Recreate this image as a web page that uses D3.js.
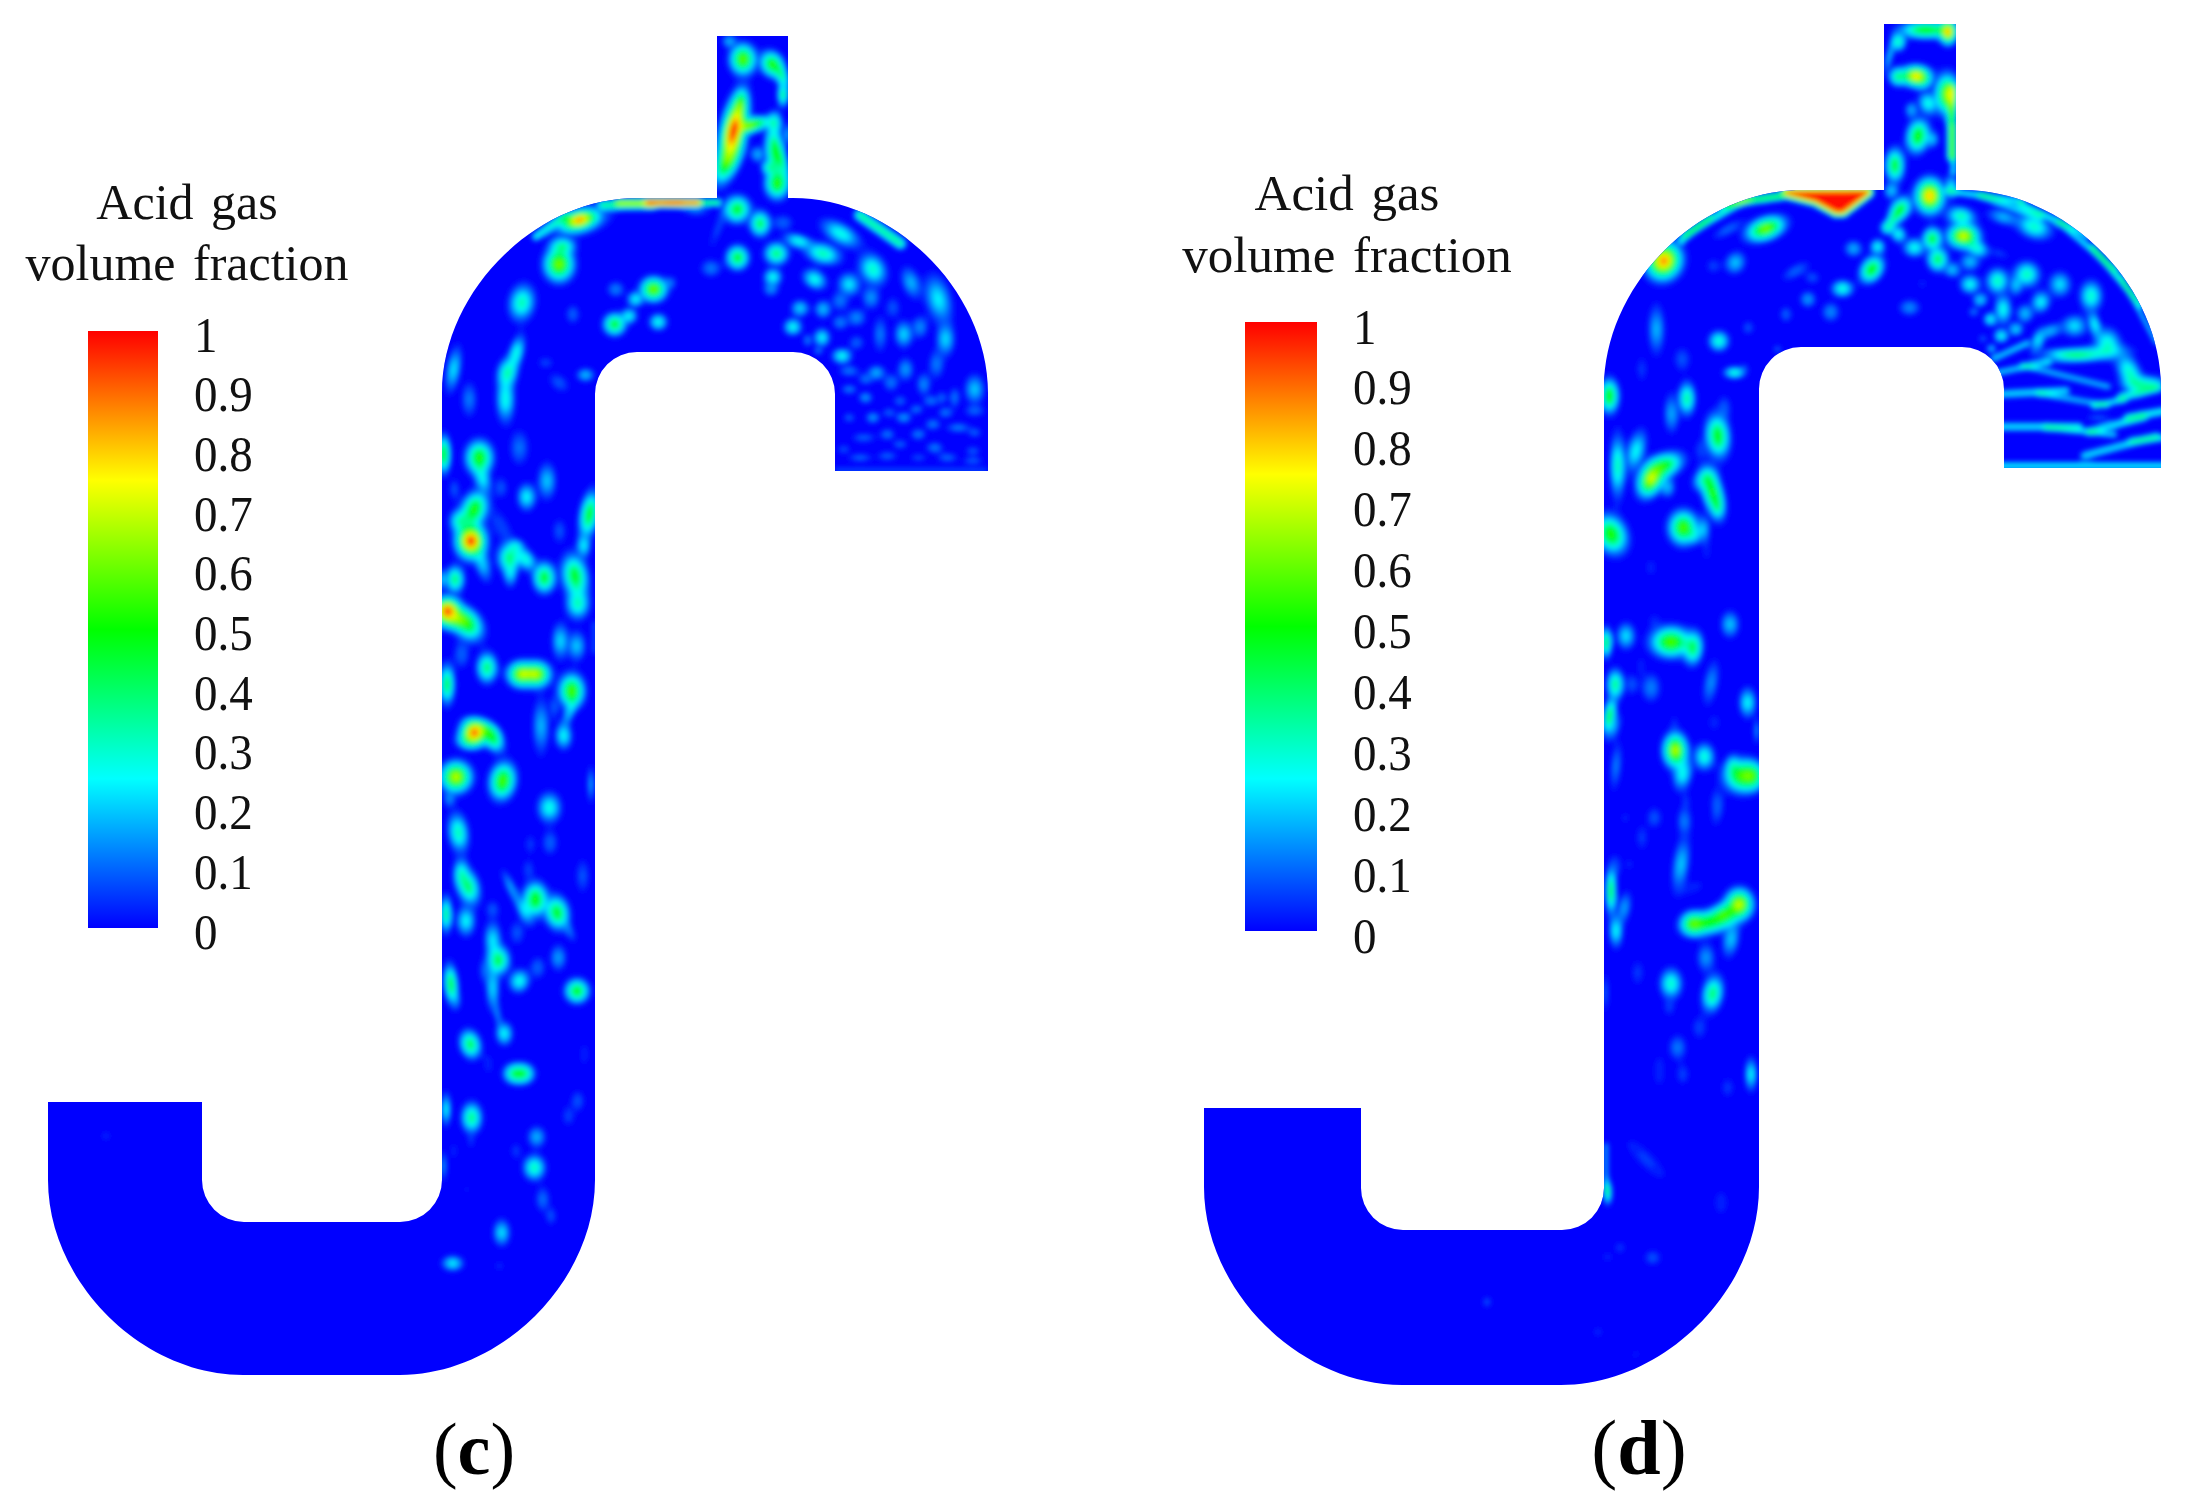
<!DOCTYPE html>
<html><head><meta charset="utf-8">
<script src="https://cdn.jsdelivr.net/npm/d3@7"></script>
<style>html,body{margin:0;padding:0;background:#fff}svg{display:block}</style></head>
<body><svg id="c" width="2190" height="1509"></svg>
<script>
// legend values
const legendTicks=[0,0.1,0.2,0.3,0.4,0.5,0.6,0.7,0.8,0.9,1];
const stopValues=[0,0.25,0.5,0.75,1];
const stopColors=["#0000ff","#00ffff","#00ff00","#ffff00","#ff0000"];
const titleLines=["Acid gas","volume fraction"];
const panelLetters=["c","d"];

// Gas pockets: [x, y, spreadX, spreadY, peak fraction, tilt deg]
// x, y and spreads are in the units of each reading window (see windows below).
const pocketsCTop=[
[858,115,14,18,.62],[820,60,8,8,.2],[938,130,12,16,.55,-30],[965,165,7,16,.35,-20],[968,222,6,14,.4],
[832,330,13,42,1,12],[815,420,12,30,.5,25],[850,250,7,18,.45,10],[890,308,18,8,.55,-10],[870,320,12,7,.4],
[945,305,8,14,.3],[945,390,10,30,.5,-5],[965,420,6,22,.3,-15],[980,340,4,14,.2],[898,400,8,10,.2],[928,440,8,8,.28],[952,488,13,18,.55],
[665,545,40,5,1],[600,545,50,5,.6],[540,552,40,6,.4],[720,545,40,4,.5],[730,570,16,6,.12],
[408,597,18,10,.85,-15],[410,600,32,16,.3,-15],[1235,625,40,7,.4,35],[330,615,30,5,.3,-35],
[352,730,16,20,.65],[362,675,14,10,.35],[250,845,14,22,.35,10],[390,880,8,12,.12],
[612,805,14,14,.65],[658,785,8,8,.12],[562,835,9,9,.28],[545,885,9,9,.28],[505,910,12,13,.5],[625,903,10,10,.3],[508,805,10,10,.15],
[842,565,14,16,.5,30],[905,608,11,15,.45],[968,605,12,10,.12],[790,620,6,30,.08,20],[843,710,12,14,.5],[950,698,13,13,.42],[770,742,12,11,.14],
[1010,660,16,8,.3,15],[1127,638,24,12,.3,30],[1078,698,20,12,.36,15],[1055,775,14,11,.3,30],[940,768,10,10,.3],[935,805,9,9,.16],
[1150,790,12,14,.26,-30],[1215,745,14,20,.33,-30],[1320,785,10,20,.2,-20],[1395,835,14,30,.26,-15],
[1015,862,10,10,.24],[1078,865,9,11,.22],[995,918,10,10,.3],[1075,950,9,11,.28],[1130,1005,11,9,.3],[1035,958,5,8,.15],[1065,990,5,5,.15],
[1125,840,10,12,.14],[1210,830,10,14,.17],[1170,890,11,11,.16],[1125,905,9,9,.15],[1270,860,9,14,.1],
[1300,940,10,16,.24],[1345,918,9,14,.16],[1415,955,10,20,.24],[1235,940,8,22,.14],[1170,965,9,9,.12],[1390,1030,9,18,.14],
[1305,1045,9,14,.18],[1225,1055,10,9,.2],[1150,1050,12,7,.14],[1195,1075,9,7,.13],[1265,1085,9,11,.14],[1355,1090,8,14,.16],[1495,1105,11,18,.22],[1440,1130,6,13,.14],
[1150,1105,9,6,.15],[1195,1130,8,7,.18],[1290,1140,8,7,.12],[1375,1140,9,7,.14],[1405,1130,6,8,.12],
[1215,1190,8,7,.18],[1300,1190,9,7,.18],[1335,1165,8,6,.14],[1415,1175,9,7,.14],[1495,1170,12,7,.12],[1260,1175,8,6,.12],
[1150,1190,7,6,.12],[1380,1210,9,7,.15],[1450,1220,14,6,.15],[1255,1240,9,7,.14],[1340,1240,9,7,.15],[1190,1250,14,6,.12],[1495,1235,8,6,.12],
[1290,1270,9,6,.12],[1385,1280,10,7,.15],[1135,1285,8,6,.1],[1490,1290,9,6,.11],[1180,1310,14,5,.13],[1255,1305,12,6,.12],[1340,1310,10,5,.1],[1420,1310,12,6,.13],[1490,1320,12,5,.12],
[1320,1348,120,4,.1],
[62,1045,8,28,.25,10],[235,995,8,22,.3,15],[210,1055,11,18,.33,10],[205,1135,10,28,.3],[105,1135,9,22,.14],[352,1085,14,10,.1,40],[425,1062,10,8,.22],[315,1025,10,8,.08]
];
const pocketsCMid=[
[38,100,8,22,.55],[145,110,16,20,.55],[155,175,9,18,.25,-15],[70,205,7,14,.1],[210,200,9,14,.1],[265,80,12,22,.13],[348,180,11,22,.22],[287,228,11,16,.28],
[130,265,15,22,.55,20],[85,300,12,14,.3],[120,360,17,20,1],[155,430,9,22,.22,-15],[475,280,11,28,.5,10],[458,375,8,14,.25],[385,330,9,16,.1],[210,315,12,28,.08,-30],
[235,410,14,18,.4],[255,375,10,8,.2],[285,415,10,16,.3,-35],[238,460,8,16,.22],[72,475,11,16,.42],[340,470,13,18,.5],[432,465,15,26,.5,-10],[35,475,4,12,.25],
[50,570,14,14,.95],[45,575,18,18,.4],[110,610,16,22,.5,-40],[80,595,16,12,.45],[440,550,14,18,.33],[388,660,10,22,.24],[437,675,11,18,.22],[490,650,4,25,.1],
[92,700,10,18,.12],[168,740,12,18,.42],[48,790,9,24,.45],[270,760,16,15,.65],[318,760,16,15,.65],[293,758,14,7,.3],
[422,810,15,20,.6],[415,875,6,20,.2,20],[398,945,10,16,.28],[330,915,10,34,.2],[370,860,6,16,.1],
[130,935,16,15,.95],[185,950,11,18,.5,-30],[150,918,20,8,.3,20],[115,960,16,10,.3],
[75,1068,18,18,.72],[215,1080,15,22,.6,10],[480,1090,4,22,.2],[55,1135,7,10,.15],[355,1160,14,18,.3]
];
const pocketsCLow=[
[82,95,12,24,.35,-8],[357,125,10,16,.12],[298,130,8,14,.07],[292,205,8,14,.08],[455,225,9,22,.1],[90,215,9,18,.26],[112,258,13,22,.42,-15],
[240,260,6,24,.18,-25],[313,295,14,20,.55],[280,330,8,20,.2,-25],[378,335,14,20,.5,-10],[415,390,6,16,.12,-25],[45,340,7,22,.4],[105,360,11,18,.28],[185,325,9,12,.1],[258,395,10,16,.1],
[185,415,10,22,.25],[203,478,13,17,.45],[160,510,7,16,.1],[185,560,8,28,.24],[200,640,4,20,.15,-10],[320,500,10,14,.12],[382,470,10,16,.18],[265,540,12,14,.3,20],
[438,570,14,14,.52],[60,550,8,24,.48,-5],[78,600,5,12,.1],[220,698,10,14,.28],[118,730,12,17,.45,-15],[172,790,8,16,.05],[250,818,13,12,.4],[278,818,13,12,.4],
[460,760,6,16,.06],[440,900,9,14,.1],[412,945,9,14,.08],[45,925,6,20,.28],[122,950,12,18,.4],[120,1020,5,12,.06],[68,1050,5,12,.06],[317,1008,11,13,.2],[255,1050,8,12,.07],[310,1100,13,15,.35],[38,1095,4,18,.18],
[335,1195,9,16,.13],[360,1245,7,12,.1],[212,1295,10,16,.25],[65,1387,13,9,.27],[205,1395,8,8,.05],[108,1165,8,5,.04],[-975,1005,7,7,.06]
];
const pocketsDTop=[
[900,42,28,10,.55],[960,48,9,14,.85],[825,78,8,11,.35],[800,120,4,22,.22,15],[822,182,9,11,.38],[872,180,16,12,.8],[890,195,10,10,.25],
[958,235,13,24,.65],[905,262,10,14,.3,-20],[860,282,7,10,.2],[970,320,5,60,.55],[975,400,4,40,.25],[878,360,12,20,.55,10],[918,370,7,10,.2],[815,448,10,20,.5],
[910,540,15,20,.85],[970,510,7,14,.25],[805,525,8,10,.22],
[440,550,60,5,.55,-8],[330,600,60,5,.35,-30],[270,640,30,4,.3,-40],[463,638,22,13,.65,-20],[360,640,20,7,.12,-30],
[185,735,18,22,.9,30],[380,740,11,14,.22,30],[320,750,9,10,.08],[545,765,18,8,.12,-30],[590,785,9,8,.1],[335,975,11,12,.33],[415,935,7,9,.1],
[165,940,9,30,.2],[235,1030,10,16,.1],[125,1060,7,18,.07],[378,1070,12,7,.33],[405,1055,5,5,.08],[495,1000,5,5,.12],
[36,1140,10,20,.55],[248,1148,9,20,.38],[205,1185,8,24,.13],[350,1175,8,16,.1],
[830,580,10,16,.5,35],[795,635,8,8,.3],[810,610,6,14,.3,35],[825,655,8,10,.3,-30],[768,692,8,9,.3],[702,698,10,10,.2],[868,695,12,11,.3],[917,668,10,13,.5],[752,760,11,17,.55,35],[932,730,11,14,.45],
[995,600,16,11,.35,10],[1002,660,17,14,.75],[1040,698,13,9,.3,25],[1020,738,11,10,.22],[972,762,9,9,.22],[1110,603,18,9,.2,15],[1195,632,20,14,.33,20],[1100,712,14,6,.07,20],
[1020,805,11,11,.3],[1048,852,8,8,.25],[1030,888,6,6,.14],[1075,910,7,8,.3],[1105,960,8,8,.3],[1078,998,5,5,.25],[1055,968,5,5,.12],[1145,940,8,8,.25],
[1095,795,12,15,.35],[1175,775,14,15,.35,20],[1145,810,7,12,.2],[1265,805,12,15,.25],[1350,840,12,18,.33],[1110,880,9,18,.3],[1213,858,10,13,.28,20],[1170,893,9,11,.22],
[672,818,12,10,.32],[578,850,9,10,.18],[640,888,10,12,.16],[518,895,7,10,.12],[855,875,12,10,.16],[890,803,6,8,.05],
[1305,930,14,13,.25],[1240,945,14,8,.2,-20],[1205,975,7,15,.25,20],[1360,925,6,16,.28,-15],[1395,980,14,18,.3,-20],[1330,1015,45,9,.33,-5],[1290,1015,30,6,.2,5],
[1130,1005,30,4,.25,-25],[1160,1055,45,4,.25,-12],[1280,1080,70,4,.22,14],[1180,1130,60,5,.26,-3],[1300,1150,55,4,.22,10],[1400,1160,25,4,.28,-12],[1480,1130,30,5,.3,-15],
[1455,1070,12,26,.33,-25],[1500,1105,25,10,.33],[1190,1232,75,5,.27],[1320,1245,55,4,.25,6],[1420,1225,45,5,.28,-15],[1500,1195,30,5,.3,-10],[1430,1290,60,5,.26,-15],[1510,1270,30,4,.25,-5],
[1330,1350,230,5,.28],[1370,1205,15,5,.1],[1250,610,60,4,.3,25],[1340,690,60,4,.28,40],[1420,780,60,4,.35,50],[1480,880,60,3,.25,62],[1060,540,60,4,.3,8],[1130,570,50,5,.25,20]
];
const pocketsDMid=[
[365,75,14,26,.52,-5],[315,115,9,14,.07],[228,20,9,20,.08],[65,165,9,38,.35],[120,120,11,26,.28,15],[165,205,14,22,.72,25],[205,165,24,14,.5,-25],[215,230,9,12,.2],
[350,245,12,30,.55,-15],[325,205,16,12,.25,-40],[365,290,7,14,.2],[262,350,17,20,.6],[295,375,8,10,.15],[322,355,8,16,.2],[332,415,6,20,.05],[45,370,18,24,.55,-25],[165,470,9,14,.05],
[402,640,11,16,.22],[90,675,11,16,.25],[225,693,24,18,.6],[292,712,11,20,.42,5],[30,695,7,18,.45],[175,630,9,12,.05],
[58,820,10,18,.4],[108,820,8,14,.1],[165,830,12,18,.15],[135,765,6,14,.05],[345,815,9,28,.16,10],[455,875,10,18,.28],[355,935,10,14,.05],[482,960,3,16,.2],
[40,915,7,22,.48,10],[55,950,7,18,.15,20],[238,1018,14,20,.72],[260,1090,11,20,.28,10],[325,1037,12,16,.32],[60,1065,7,30,.14,5],
[438,1095,22,20,.55],[410,1065,8,14,.2],[470,1095,14,16,.42],[235,940,6,16,.05],[270,1170,6,14,.06],[360,1170,8,18,.07]
];
const pocketsDLow=[
[175,50,10,14,.1],[265,60,9,18,.14],[365,30,8,22,.08,10],[138,110,9,18,.07],[88,50,8,12,.04],[255,190,10,34,.22,8],[290,260,20,10,.05,-20],[60,195,8,16,.08],[100,190,8,12,.04],
[45,270,6,28,.48],[85,320,8,20,.18,10],[60,390,8,20,.28],[430,310,16,18,.72],[385,340,18,13,.5,-25],[335,365,28,14,.5,-10],[290,368,14,14,.5],
[405,415,10,22,.22,10],[330,470,11,18,.17],[195,385,6,14,.03],[125,515,9,18,.07],[225,548,13,18,.33],[350,578,12,22,.42,10],[220,620,8,12,.07],[310,680,10,16,.08],[245,740,11,16,.14],[260,820,9,14,.08],
[190,810,10,28,.05],[465,820,7,20,.28],[395,860,9,14,.07],[340,905,8,10,.03],[150,860,7,16,.03],[28,575,4,24,.12],[150,1075,12,40,.07,-45],[375,1205,10,18,.06],[30,1100,3,40,.22],[35,1175,5,14,.4],
[170,1370,11,10,.1],[72,1340,8,8,.07],[35,1368,8,8,.05],[-327,1503,6,7,.1],[6,1593,7,7,.06],[120,1660,12,5,.04,-30],[-984,996,4,4,.04]
];
// Gas pool under the top wall of panel d, same units as pocketsDTop
const poolD=[[520,530],[740,528],[672,585],[655,585],[600,552]];

// Reading windows: each maps reading units onto the page
const windows={
 cTop:[[0,2.75,430],[0,3,20]], cMid:[[0,3,430],[0,3,420]], cLow:[[0,3,430],[0,3,800]],
 dTop:[[0,2.727,1595],[0,3,15]], dMid:[[0,3,1595],[0,3,410]], dLow:[[0,3,1595],[0,3,800]]
};
const winScale=w=>{const [[,kx,x0],[,ky,y0]]=w;
 return {x:d3.scaleLinear().domain([0,kx]).range([x0,x0+1]),y:d3.scaleLinear().domain([0,ky]).range([y0,y0+1]),kx,ky};};

const panels=[
 {letter:panelLetters[0],labelX:474,labelSize:74,titleSize:50,
  geo:{a:48,b:202,c:442,d:595,top:1102,yI:1222,yO:1375,yT:198,yU:352,e:717,f:788,yC:36,g:835,h:988,yE:471,ri:42,ro:195},
  bar:{x:88,w:70,y0:928,y1:331},ticks:{x:194,y0:932,y1:335},title:{x:187,y:[219,280]},
  sets:[[pocketsCTop,windows.cTop],[pocketsCMid,windows.cMid],[pocketsCLow,windows.cLow]],pools:[]},
 {letter:panelLetters[1],labelX:1639,labelSize:78,titleSize:51,
  geo:{a:1204,b:1361,c:1604,d:1759,top:1108,yI:1230,yO:1385,yT:190,yU:347,e:1884,f:1956,yC:24,g:2004,h:2161,yE:468,ri:42,ro:198},
  bar:{x:1245,w:72,y0:931,y1:322},ticks:{x:1353,y0:936,y1:327},title:{x:1347,y:[210,272]},
  sets:[[pocketsDTop,windows.dTop],[pocketsDMid,windows.dMid],[pocketsDLow,windows.dLow]],pools:[[poolD,windows.dTop]]}
];

const color=d3.scaleLinear().domain(stopValues).range(stopColors).clamp(true);
const svg=d3.select("#c");
const defs=svg.append("defs");
const grad=defs.append("linearGradient").attr("id","bar").attr("x1",0).attr("x2",0).attr("y1",1).attr("y2",0);
stopValues.forEach((v,i)=>grad.append("stop").attr("offset",v).attr("stop-color",stopColors[i]));
defs.append("filter").attr("id","soft").attr("x","-5%").attr("y","-5%").attr("width","110%").attr("height","110%")
  .append("feGaussianBlur").attr("stdDeviation",1.3);
const serif="'Liberation Serif','Times New Roman',serif";

function pipePath(g){
 const p=d3.path(),K=0.52;
 const R=g.ro,kr=R*(1-K);
 p.moveTo(g.a,g.top);p.lineTo(g.b,g.top);
 p.arcTo(g.b,g.yI,g.c,g.yI,g.ri);p.arcTo(g.c,g.yI,g.c,g.yU,g.ri);
 p.lineTo(g.c,g.yT+R);p.bezierCurveTo(g.c,g.yT+kr,g.c+kr,g.yT,g.c+R,g.yT);
 p.lineTo(g.e,g.yT);p.lineTo(g.e,g.yC);p.lineTo(g.f,g.yC);p.lineTo(g.f,g.yT);
 p.lineTo(g.h-R,g.yT);p.bezierCurveTo(g.h-kr,g.yT,g.h,g.yT+kr,g.h,g.yT+R);
 p.lineTo(g.h,g.yE);p.lineTo(g.g,g.yE);
 p.arcTo(g.g,g.yU,g.d,g.yU,g.ri);p.arcTo(g.d,g.yU,g.d,g.yO,g.ri);
 p.lineTo(g.d,g.yO-R);p.bezierCurveTo(g.d,g.yO-kr,g.d-kr,g.yO,g.d-R,g.yO);
 p.lineTo(g.a+R,g.yO);p.bezierCurveTo(g.a+kr,g.yO,g.a,g.yO-kr,g.a,g.yO-R);
 p.closePath();
 return p.toString();
}
const CELL=2,SPREAD=1.42;
function buildField(pn){
 const g=pn.geo,x0=g.a-10,y0=g.yC-10,w=Math.ceil((g.h-g.a+20)/CELL),h=Math.ceil((g.yO-g.yC+20)/CELL);
 const f=new Float64Array(w*h);
 pn.sets.forEach(([list,win])=>{
  const s=winScale(win);
  list.forEach(([zx,zy,sx,sy,peak,tilt=0])=>{
   const cx=s.x(zx),cy=s.y(zy),rx=SPREAD*sx/s.kx,ry=SPREAD*sy/s.ky,t=-tilt*Math.PI/180,co=Math.cos(t),si=Math.sin(t);
   // long thin pockets are streaks of even strength
   const lx=rx>6*ry?rx*1.2:0,ly=ry>6*rx?ry*1.2:0,ax=lx?ry:rx,ay=ly?rx:ry;
   const R=Math.max(rx+lx,ry+ly)*3.6;
   const i0=Math.max(0,Math.floor((cx-R-x0)/CELL)),i1=Math.min(w-1,Math.ceil((cx+R-x0)/CELL));
   const j0=Math.max(0,Math.floor((cy-R-y0)/CELL)),j1=Math.min(h-1,Math.ceil((cy+R-y0)/CELL));
   for(let j=j0;j<=j1;j++)for(let i=i0;i<=i1;i++){
    const dx=x0+i*CELL-cx,dy=y0+j*CELL-cy;
    const u=Math.max(0,Math.abs(dx*co-dy*si)-lx),v=Math.max(0,Math.abs(dx*si+dy*co)-ly);
    const val=peak*Math.exp(-0.5*(u*u/(ax*ax)+v*v/(ay*ay)));
    f[j*w+i]=1-(1-f[j*w+i])*(1-val);
   }
  });
 });
 pn.pools.forEach(([poly,win])=>{
  const s=winScale(win),P=poly.map(([a,b])=>[s.x(a),s.y(b)]),W=8;
  const xs=P.map(q=>q[0]),ys=P.map(q=>q[1]);
  const i0=Math.floor((d3.min(xs)-W-x0)/CELL),i1=Math.ceil((d3.max(xs)+W-x0)/CELL),j0=Math.floor((d3.min(ys)-W-y0)/CELL),j1=Math.ceil((d3.max(ys)+W-y0)/CELL);
  const segD=(px,py,a,b)=>{const vx=b[0]-a[0],vy=b[1]-a[1],t=Math.max(0,Math.min(1,((px-a[0])*vx+(py-a[1])*vy)/(vx*vx+vy*vy)));return Math.hypot(px-a[0]-t*vx,py-a[1]-t*vy);};
  for(let j=j0;j<=j1;j++)for(let i=i0;i<=i1;i++){
   const px=x0+i*CELL,py=y0+j*CELL;let val=1;
   if(!d3.polygonContains(P,[px,py])){let d=1e9;P.forEach((a,k)=>{d=Math.min(d,segD(px,py,a,P[(k+1)%P.length]));});val=Math.max(0,1-d/W);}
   f[j*w+i]=Math.max(f[j*w+i],val);
  }
 });
 for(let k=0;k<f.length;k++)f[k]=Math.min(1,f[k]);
 return {f,w,h,x0,y0};
}
const levels=d3.range(0.03,1.0001,0.03);

panels.forEach((pn,idx)=>{
 const root=svg.append("g");
 const d=pipePath(pn.geo);
 defs.append("clipPath").attr("id","pipe"+idx).append("path").attr("d",d);
 root.append("path").attr("d",d).attr("fill",color(0));
 const {f,w,h,x0,y0}=buildField(pn);
 const cont=d3.contours().size([w,h]).thresholds(levels)(Array.from(f));
 root.append("g").attr("clip-path",`url(#pipe${idx})`)
  .append("g").attr("filter","url(#soft)")
  .attr("transform",`translate(${x0},${y0}) scale(${CELL})`)
  .selectAll("path").data(cont).join("path")
  .attr("d",d3.geoPath()).attr("fill",c=>color(c.value));

 // legend
 const b=pn.bar;
 const ly=d3.scaleLinear().domain([0,1]).range([b.y0,b.y1]);
 root.append("rect").attr("x",b.x).attr("y",ly(1)).attr("width",b.w).attr("height",ly(0)-ly(1)).attr("fill","url(#bar)");
 const ty=d3.scaleLinear().domain([0,1]).range([pn.ticks.y0,pn.ticks.y1]);
 const ax=root.append("g").attr("transform",`translate(${pn.ticks.x},0)`)
  .call(d3.axisRight(ty).tickValues(legendTicks).tickSize(0).tickPadding(0).tickFormat(d3.format("~g")));
 ax.select(".domain").remove();
 ax.selectAll("text").attr("font-family",serif).attr("font-size",50).attr("transform","scale(.94,1)").attr("fill","#111");
 titleLines.forEach((t,i)=>root.append("text").attr("x",pn.title.x).attr("y",pn.title.y[i])
  .attr("text-anchor","middle").attr("font-family",serif).attr("font-size",pn.titleSize)
  .attr("word-spacing",5).attr("fill","#111").text(t));
 const lab=root.append("text").attr("x",pn.labelX).attr("y",1474).attr("text-anchor","middle")
  .attr("font-family",serif).attr("font-size",pn.labelSize).attr("fill","#000");
 lab.append("tspan").text("(");
 lab.append("tspan").attr("font-weight","bold").text(pn.letter);
 lab.append("tspan").text(")");
});
</script></body></html>
